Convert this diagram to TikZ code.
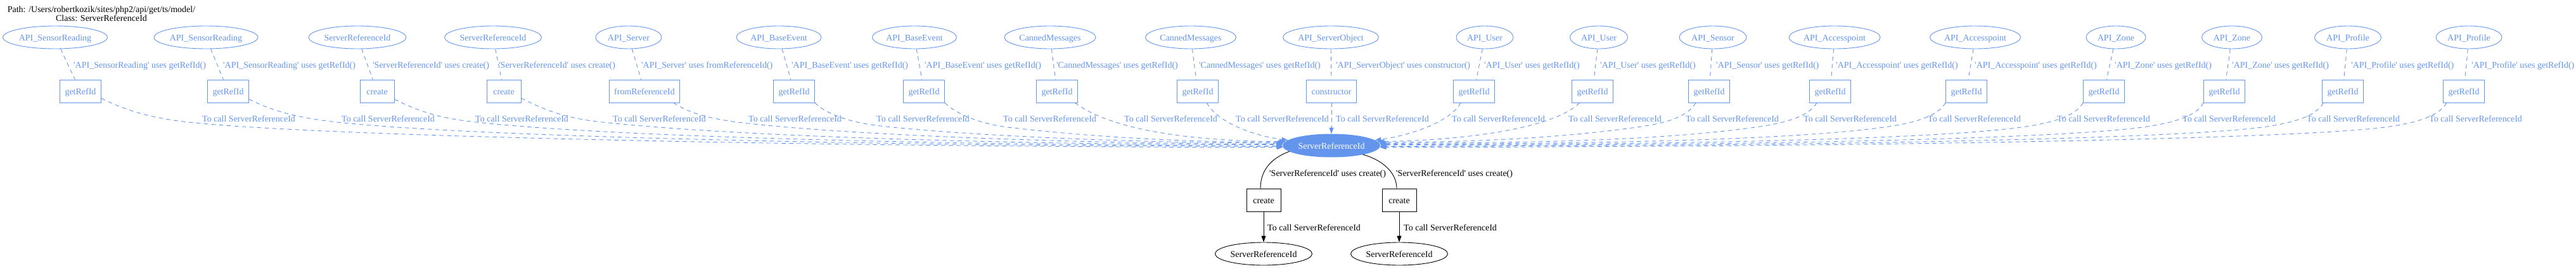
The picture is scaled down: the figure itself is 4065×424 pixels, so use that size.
\documentclass[tikz,border=0pt]{standalone}
\usepackage{fontspec}
\setmainfont{Liberation Serif}
\usetikzlibrary{shapes.geometric,arrows.meta}
\definecolor{cfblue}{RGB}{100,149,237}
\newcommand\sqt{\textquotesingle}
\begin{document}
\begin{tikzpicture}[x=1pt,y=-1pt,
  every node/.style={font=\fontsize{14pt}{16pt}\selectfont},
  topell/.style={ellipse, draw=cfblue, text=cfblue, line width=0.9pt, inner sep=0pt,
    minimum height=36pt, text height=13pt, text depth=3pt},
  topbox/.style={rectangle, draw=cfblue, text=cfblue, line width=0.9pt, minimum width=54pt,
    minimum height=36pt, inner xsep=8pt, inner ysep=0pt, text height=13pt, text depth=3pt},
  blkbox/.style={topbox, draw=black, text=black},
  blkell/.style={topell, draw=black, text=black},
  elab/.style={anchor=base west, inner sep=0pt, text=cfblue},
  blab/.style={anchor=base west, inner sep=0pt, text=black},
  dashedge/.style={draw=cfblue, line width=0.9pt, dash pattern=on 6.5pt off 5.5pt},
  arrowedge/.style={dashedge, -{Triangle[length=10pt,width=7pt]}},
  blkline/.style={draw=black, line width=0.9pt},
  blkarrow/.style={blkline, -{Triangle[length=10pt,width=7pt]}}]
\useasboundingbox (0,0) rectangle (4065,424);

% title
\node[anchor=base, inner sep=0pt] (path) at (160,19) {Path: /Users/robertkozik/sites/php2/api/get/ts/model/};
\node[anchor=base, inner sep=0pt] (cls) at (160,33) {Class: ServerReferenceId};

% central node
\node[ellipse, fill=cfblue, draw=cfblue, text=white, line width=0.9pt, inner sep=0pt,
  minimum width=153pt, minimum height=36pt, text height=13pt, text depth=3pt] (c) at (2101,230) {ServerReferenceId};

% top row
\foreach \i/\ex/\ew/\en/\bx/\bm/\ux/\tx in {
 1/87/165/API\_SensorReading/127/getRefId/116/319,
 2/325/164/API\_SensorReading/360/getRefId/352/539,
 3/564/154/ServerReferenceId/595/create/588/750,
 4/778/153/ServerReferenceId/795/create/787/967,
 5/992/104/API\_Server/1017/fromReferenceId/1012/1181,
 6/1229/134/API\_BaseEvent/1253/getRefId/1249/1383,
 7/1443/133/API\_BaseEvent/1458/getRefId/1459/1583,
 8/1657/144/CannedMessages/1668/getRefId/1667/1774,
 9/1879/143/CannedMessages/1890/getRefId/1892/1950,
 10/2100/151/API\_ServerObject/2101/constructor/2108/2108,
 11/2343/90/API\_User/2326/getRefId/2342/2291,
 12/2523/91/API\_User/2513/getRefId/2525/2475,
 13/2703/106/API\_Sensor/2697/getRefId/2708/2660,
 14/2895/144/API\_Accesspoint/2888/getRefId/2897/2846,
 15/3117/143/API\_Accesspoint/3103/getRefId/3116/3042,
 16/3339/94/API\_Zone/3320/getRefId/3337/3246,
 17/3522/95/API\_Zone/3510/getRefId/3522/3444,
 18/3705/105/API\_Profile/3697/getRefId/3710/3640,
 19/3896/104/API\_Profile/3888/getRefId/3900/3833}{
  \node[topell, minimum width=\ew pt] (e\i) at (\ex,59) {\en};
  \node[topbox] (b\i) at (\bx,144) {\bm};
  \draw[dashedge] (e\i) -- (b\i);
  \node[elab] (u\i) at (\ux,107) {\sqt\en\sqt{} uses \bm()};
  \node[elab] (t\i) at (\tx,192) {To call ServerReferenceId};
}

% long dashed edges to central node (two smooth segments)
\foreach \i/\sa/\ax/\ay/\bx/\by/\kx/\ky/\cx/\cy/\dx/\dy/\ang in {
 1/-19/199/175/239/186/289/192/489/216/1330/232.6/182,
 2/-21/433/177/473/186/523/192/723/216/1424/231.3/181,
 3/-25/663/177/693/186/743/192/943/216/1512/230/180,
 4/-22/862/175/892/186/942/192/1142/215/1591/228.7/179,
 5/-22/1090/180/1122/188/1172/194/1322/212/1687/227.4/178,
 6/south east/1306/182/1345/194/1390/199/1500/212/1772/226.1/177,
 7/south east/1511/182/1550/196/1590/201/1700/214/1852/224.9/176,
 13/-139/2664/184/2630/194/2590/200/2480/216/2341/224.9/4,
 14/-139/2855/184/2817/194/2777/200/2627/222/2416/226.1/3,
 15/south west/3058/184/3020/194/2980/200/2830/222/2498/227.4/2,
 16/south west/3275/184/3237/194/3197/200/3047/222/2585/228.7/1,
 17/south west/3466/184/3428/194/3388/200/3238/222/2662/230/0,
 18/-149/3655/184/3617/194/3577/200/3427/222/2738/231.3/-1,
 19/-146/3849/184/3811/194/3771/200/3621/222/2815/232.6/-2}{
  \draw[arrowedge] (b\i.\sa) .. controls (\ax,\ay) and (\bx,\by) .. (\kx,\ky)
     .. controls (\cx,\cy) and (\dx,\dy) .. (c.\ang);
}
% short dashed edges to central node
\foreach \i/\sa/\ax/\ay/\bx/\by/\ang in {
 8/-33/1760/210/1900/223/175,
 9/-52/1920/192/1975/214/173,
 11/-139/2290/192/2225/214/7,
 12/-138/2450/205/2300/222/5}{
  \draw[arrowedge] (b\i.\sa) .. controls (\ax,\ay) and (\bx,\by) .. (c.\ang);
}
\draw[arrowedge] (b10) -- (c);

% bottom part
\node[blkbox] (k1) at (1994,316) {create};
\node[blkbox] (k2) at (2208,316) {create};
\node[blkell, minimum width=153pt] (s1) at (1994,401) {ServerReferenceId};
\node[blkell, minimum width=153pt] (s2) at (2208,401) {ServerReferenceId};
\draw[blkline] (c.188) .. controls (2005,250) and (1989,270) .. ([xshift=-5pt]k1.north);
\draw[blkline] (c.-16) .. controls (2180,252) and (2204,272) .. ([xshift=-4pt]k2.north);
\node[blab] (l1) at (2003,278) {\sqt ServerReferenceId\sqt{} uses create()};
\node[blab] (l2) at (2203,278) {\sqt ServerReferenceId\sqt{} uses create()};
\draw[blkarrow] (k1) -- (s1);
\draw[blkarrow] (k2) -- (s2);
\node[blab] (m1) at (2000,364) {To call ServerReferenceId};
\node[blab] (m2) at (2215,364) {To call ServerReferenceId};
\end{tikzpicture}
\end{document}
